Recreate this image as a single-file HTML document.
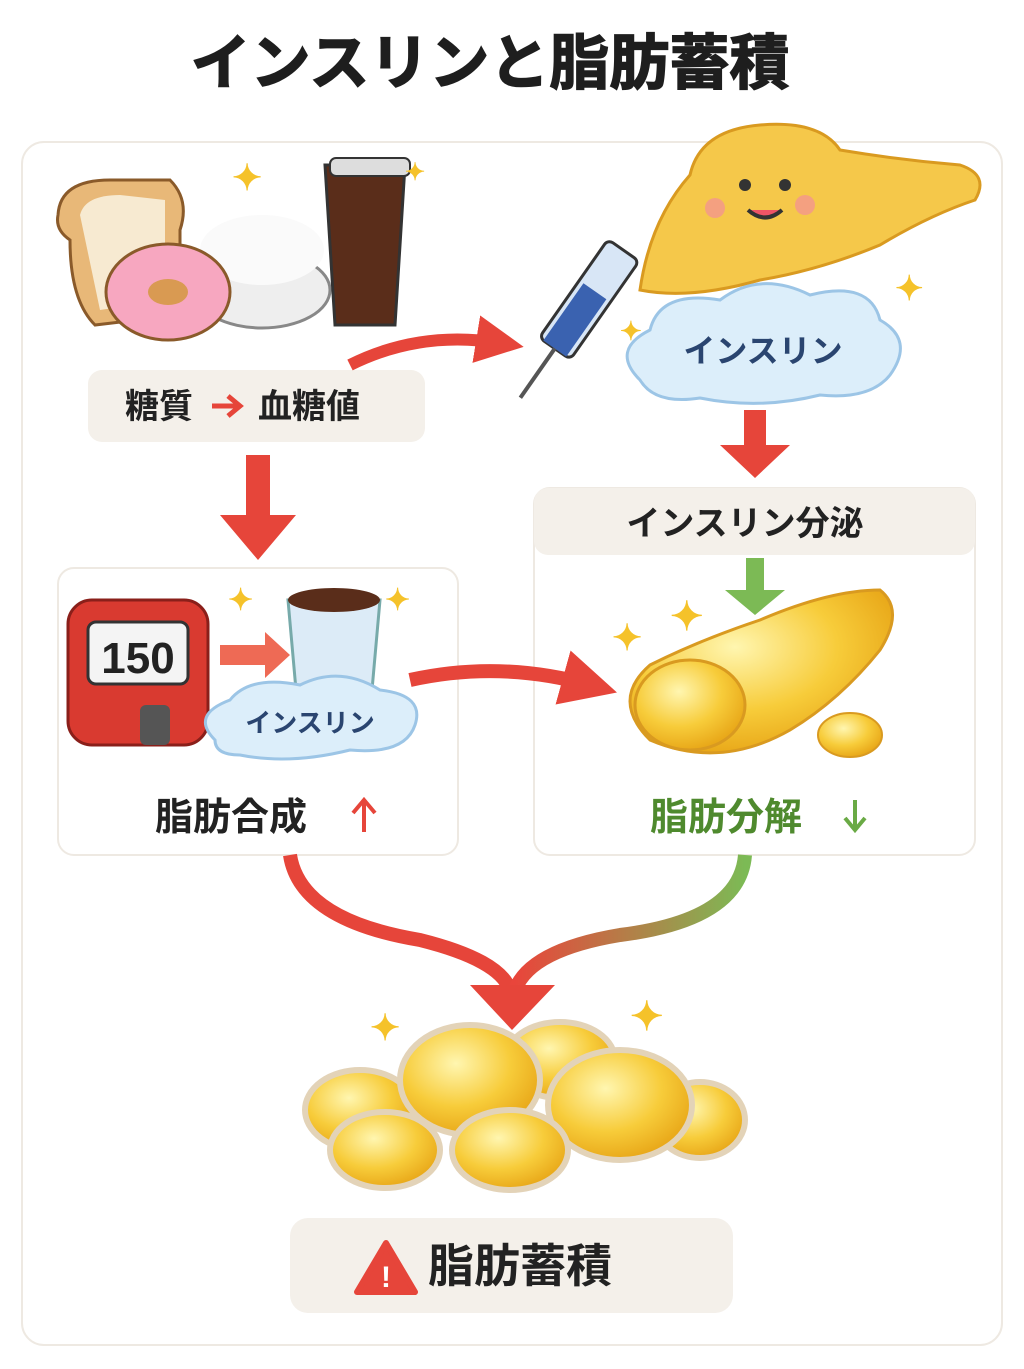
<!DOCTYPE html>
<html><head><meta charset="utf-8">
<style>
html,body{margin:0;padding:0;background:#fff;}
body{width:1024px;height:1364px;overflow:hidden;font-family:"Liberation Sans","Noto Sans CJK JP",sans-serif;}
svg text{font-family:"Liberation Sans","Noto Sans CJK JP",sans-serif;font-weight:bold;}
</style></head><body>
<svg width="1024" height="1364" viewBox="0 0 1024 1364" xmlns="http://www.w3.org/2000/svg">
<defs>
<radialGradient id="fat" cx="40%" cy="35%" r="65%">
<stop offset="0" stop-color="#fff6b0"/><stop offset="0.6" stop-color="#f7cc3a"/><stop offset="1" stop-color="#e9a91a"/></radialGradient>
<linearGradient id="rg" x1="0" y1="0" x2="1" y2="0"><stop offset="0" stop-color="#e9453b"/><stop offset="1" stop-color="#7cba55"/></linearGradient>
<marker id="ah" markerWidth="4" markerHeight="4" refX="2" refY="2" orient="auto" markerUnits="strokeWidth"><path d="M0,0 L4,2 L0,4z" fill="#e6453a"/></marker>
</defs>
<text x="490" y="84" font-size="60" text-anchor="middle" fill="#1e1e1e" stroke="#1e1e1e" stroke-width="1.5">インスリンと脂肪蓄積</text>
<rect x="22" y="142" width="980" height="1203" rx="22" fill="#fff" stroke="#eee9e2" stroke-width="2"/>

<path d="M58 215 Q60 180 110 180 L170 180 Q190 200 180 230 L180 315 L95 325 Q70 300 70 240 Q55 230 58 215z" fill="#e8b878" stroke="#8a5a2a" stroke-width="3"/>
<path d="M80 215 Q85 195 120 195 L165 200 L165 300 L100 310z" fill="#f7ead1"/>
<ellipse cx="262" cy="290" rx="68" ry="38" fill="#eee" stroke="#888" stroke-width="3"/>
<ellipse cx="262" cy="250" rx="62" ry="35" fill="#fafafa"/>
<ellipse cx="168" cy="292" rx="62" ry="48" fill="#f7a7c0" stroke="#8a5a2a" stroke-width="3"/>
<ellipse cx="168" cy="292" rx="20" ry="13" fill="#d99a52"/>
<path d="M325 165 L405 165 L395 325 L335 325z" fill="#5a2d1a" stroke="#333" stroke-width="3"/>
<rect x="330" y="158" width="80" height="18" rx="6" fill="#ddd" stroke="#333" stroke-width="2"/>
<text x="232" y="190" font-size="36" fill="#f5c22a">✦</text>
<text x="405" y="180" font-size="24" fill="#f5c22a">✦</text>

<rect x="88" y="370" width="337" height="72" rx="14" fill="#f4f0ea"/>
<text x="125" y="418" font-size="34" fill="#222">糖質</text>
<path d="M212 406 L238 406 M228 396 L240 406 L228 416" stroke="#e6453a" stroke-width="5" fill="none"/>
<text x="258" y="418" font-size="34" fill="#222">血糖値</text>

<path d="M350 365 Q420 330 500 343" stroke="#e6453a" stroke-width="12" fill="none" marker-end="url(#ah)"/>

<path d="M640 290 Q650 220 690 175 Q700 130 760 125 Q820 120 840 150 Q900 160 960 165 Q990 175 975 200 Q930 215 880 245 Q820 270 760 280 Q690 300 640 290z" fill="#f5c84a" stroke="#d99a20" stroke-width="3"/>
<circle cx="745" cy="185" r="6" fill="#333"/><circle cx="785" cy="185" r="6" fill="#333"/>
<path d="M748 210 Q765 225 782 210" stroke="#333" stroke-width="4" fill="#e56"/>
<circle cx="715" cy="208" r="10" fill="#f4a080"/><circle cx="805" cy="205" r="10" fill="#f4a080"/>
<g transform="rotate(-55 590 300)"><rect x="530" y="280" width="120" height="38" rx="6" fill="#d8e6f6" stroke="#333" stroke-width="3"/><rect x="530" y="285" width="70" height="28" fill="#3a62b0"/><line x1="470" y1="299" x2="530" y2="299" stroke="#555" stroke-width="4"/></g>
<path d="M640 380 Q610 350 650 330 Q660 290 720 300 Q760 270 810 295 Q870 280 880 320 Q915 340 890 375 Q870 400 820 395 Q760 410 700 398 Q655 405 640 380z" fill="#dceefa" stroke="#9cc5e6" stroke-width="3"/>
<text x="763" y="362" font-size="32" text-anchor="middle" fill="#2a4570">インスリン</text>
<text x="895" y="300" font-size="34" fill="#f5c22a">✦</text>
<text x="620" y="340" font-size="26" fill="#f5c22a">✦</text>

<path d="M744 410 L766 410 L766 445 L790 445 L755 478 L720 445 L744 445z" fill="#e6453a"/>
<path d="M246 455 L270 455 L270 515 L296 515 L258 560 L220 515 L246 515z" fill="#e6453a"/>

<rect x="534" y="488" width="441" height="367" rx="16" fill="#fff" stroke="#eee9e2" stroke-width="2"/>
<rect x="534" y="488" width="441" height="67" rx="14" fill="#f4f0ea"/>
<text x="745" y="535" font-size="34" text-anchor="middle" fill="#222">インスリン分泌</text>
<path d="M746 558 L764 558 L764 590 L785 590 L755 615 L725 590 L746 590z" fill="#7cba55"/>
<path d="M650 740 Q610 700 650 665 Q700 640 760 620 Q830 590 880 590 Q905 610 880 650 Q840 700 790 730 Q720 770 650 740z" fill="url(#fat)" stroke="#d99a20" stroke-width="3"/>
<ellipse cx="690" cy="705" rx="55" ry="45" fill="url(#fat)" stroke="#d99a20" stroke-width="3"/>
<ellipse cx="850" cy="735" rx="32" ry="22" fill="url(#fat)" stroke="#d99a20" stroke-width="2"/>
<text x="612" y="650" font-size="36" fill="#f5c22a">✦</text>
<text x="670" y="630" font-size="40" fill="#f5c22a">✦</text>
<text x="650" y="830" font-size="38" fill="#4f8a2e">脂肪分解</text>
<path d="M855 800 L855 828 M845 818 L855 830 L865 818" stroke="#6aaa45" stroke-width="4" fill="none"/>

<rect x="58" y="568" width="400" height="287" rx="16" fill="#fff" stroke="#eee9e2" stroke-width="2"/>
<rect x="68" y="600" width="140" height="145" rx="24" fill="#d93a30" stroke="#8a1f1a" stroke-width="3"/>
<rect x="88" y="622" width="100" height="62" rx="8" fill="#f4f4f4" stroke="#333" stroke-width="3"/>
<text x="138" y="673" font-size="44" text-anchor="middle" fill="#222">150</text>
<rect x="140" y="705" width="30" height="40" rx="6" fill="#555"/>
<path d="M220 645 L265 645 L265 632 L290 655 L265 678 L265 665 L220 665z" fill="#ee6a55"/>
<path d="M288 600 L380 600 L372 690 L296 690z" fill="#dcebf7" stroke="#7aa" stroke-width="3"/>
<ellipse cx="334" cy="600" rx="46" ry="12" fill="#5a2d1a"/>
<path d="M215 740 Q190 715 230 700 Q250 675 300 685 Q340 665 380 690 Q425 695 415 725 Q405 755 350 750 Q290 765 240 755 Q215 755 215 740z" fill="#dceefa" stroke="#9cc5e6" stroke-width="3"/>
<text x="310" y="732" font-size="26" text-anchor="middle" fill="#2a4570">インスリン</text>
<text x="228" y="610" font-size="30" fill="#f5c22a">✦</text>
<text x="385" y="610" font-size="30" fill="#f5c22a">✦</text>
<text x="155" y="830" font-size="38" fill="#222">脂肪合成</text>
<path d="M364 832 L364 802 M353 813 L364 800 L375 813" stroke="#e6453a" stroke-width="4" fill="none"/>

<path d="M410 680 Q500 660 590 685" stroke="#e6453a" stroke-width="14" fill="none" marker-end="url(#ah)"/>

<path d="M290 855 Q300 920 420 940 Q500 960 510 990" stroke="#e6453a" stroke-width="14" fill="none"/>
<path d="M745 855 Q740 920 620 935 Q530 950 515 990" stroke="url(#rg)" stroke-width="14" fill="none"/>
<path d="M470 985 L555 985 L512 1030z" fill="#e6453a"/>

<g stroke="#e3d3b8" stroke-width="6">
<ellipse cx="360" cy="1110" rx="55" ry="40" fill="url(#fat)"/>
<ellipse cx="560" cy="1060" rx="55" ry="38" fill="url(#fat)"/>
<ellipse cx="470" cy="1080" rx="70" ry="55" fill="url(#fat)"/>
<ellipse cx="700" cy="1120" rx="45" ry="38" fill="url(#fat)"/>
<ellipse cx="620" cy="1105" rx="72" ry="55" fill="url(#fat)"/>
<ellipse cx="385" cy="1150" rx="55" ry="38" fill="url(#fat)"/>
<ellipse cx="510" cy="1150" rx="58" ry="40" fill="url(#fat)"/>
</g>
<text x="370" y="1040" font-size="36" fill="#f5c22a">✦</text>
<text x="630" y="1030" font-size="40" fill="#f5c22a">✦</text>

<rect x="290" y="1218" width="443" height="95" rx="18" fill="#f4f0ea"/>
<path d="M386 1243 L415 1292 L357 1292z" fill="#e6453a" stroke="#e6453a" stroke-width="6" stroke-linejoin="round"/>
<text x="386" y="1287" font-size="30" text-anchor="middle" fill="#fff">!</text>
<text x="428" y="1282" font-size="46" fill="#222">脂肪蓄積</text>
</svg>
</body></html>
